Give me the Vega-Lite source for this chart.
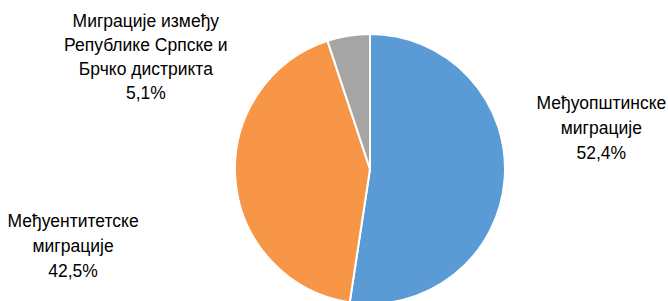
{
  "$schema": "https://vega.github.io/schema/vega-lite/v6.json",
  "width": 740,
  "height": 338,
  "padding": 0,
  "autosize": {"type": "none"},
  "background": "white",
  "view": {"stroke": null},
  "data": {
    "values": [
      {"category": "Међуопштинске миграције", "label": "Међуопштинске\nмиграције\n52,4%", "share": 52.4},
      {"category": "Међуентитетске миграције", "label": "Међуентитетске\nмиграције\n42,5%", "share": 42.5},
      {"category": "Миграције између Републике Српске и Брчко дистрикта", "label": "Миграције између\nРепублике Српске и\nБрчко дистрикта\n5,1%", "share": 5.1}
    ]
  },
  "encoding": {
    "theta": {"field": "share", "type": "quantitative", "stack": true},
    "order": {"field": "share", "type": "quantitative", "sort": "descending"}
  },
  "layer": [
    {
      "mark": {"type": "arc", "outerRadius": 135, "stroke": "white", "strokeWidth": 2},
      "encoding": {
        "color": {
          "field": "category",
          "type": "nominal",
          "scale": {
            "domain": ["Међуопштинске миграције", "Међуентитетске миграције", "Миграције између Републике Српске и Брчко дистрикта"],
            "range": ["#5B9BD5", "#F79646", "#A5A5A5"]
          },
          "legend": null
        }
      }
    },
    {
      "mark": {"type": "text", "radius": 232, "dy": -82, "align": "center", "baseline": "middle", "lineBreak": "\n", "font": "Liberation Sans", "fontSize": 17.5, "lineHeight": 25, "color": "#000000"},
      "encoding": {
        "text": {"condition": {"test": "datum.share == 52.4", "field": "label"}, "value": ""}
      }
    },
    {
      "mark": {"type": "text", "radius": 298, "dy": 28, "align": "center", "baseline": "middle", "lineBreak": "\n", "font": "Liberation Sans", "fontSize": 17.5, "lineHeight": 25, "color": "#000000"},
      "encoding": {
        "text": {"condition": {"test": "datum.share == 42.5", "field": "label"}, "value": ""}
      }
    },
    {
      "mark": {"type": "text", "radius": 120, "dx": -205, "dy": -29, "align": "center", "baseline": "middle", "lineBreak": "\n", "font": "Liberation Sans", "fontSize": 17.5, "lineHeight": 24, "color": "#000000"},
      "encoding": {
        "text": {"condition": {"test": "datum.share == 5.1", "field": "label"}, "value": ""}
      }
    }
  ]
}
